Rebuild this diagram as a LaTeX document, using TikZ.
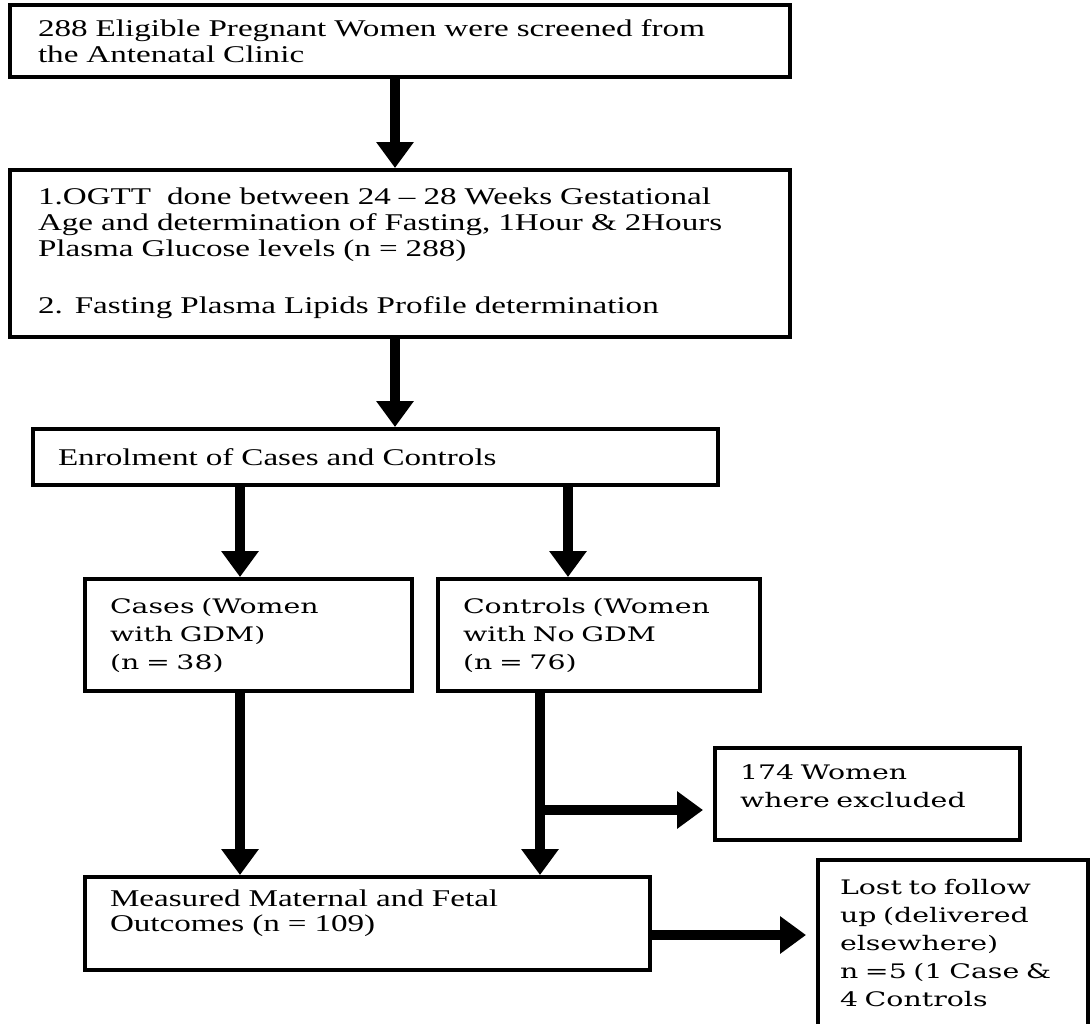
\documentclass[tikz,border=0pt]{standalone}
\usepackage{fontspec}
\usetikzlibrary{arrows.meta}
\newfontfamily\tnr[FakeStretch=1.38]{Liberation Serif}
\newfontfamily\cmb[FakeStretch=1.42]{DejaVu Serif}
\begin{document}
\begin{tikzpicture}
    [
    x=0.5pt, y=-0.5pt,
    box/.style={draw,line width=2pt,rectangle,align=left,inner ysep=0pt},
    tbox/.style={box,font=\tnr\fontsize{12pt}{12.8pt}\selectfont},
    cbox/.style={box,font=\cmb\fontsize{10pt}{14pt}\selectfont,inner xsep=12.5pt},
    flow/.style={line width=5pt,-{Triangle[width=18pt,length=13pt]}}
    ]
    \useasboundingbox (0,0) rectangle (1090,1023);
    \node (screen) at (400,41) [tbox,inner xsep=14pt,text width=362pt,minimum height=36pt]
      {288 Eligible Pregnant Women were screened from\\the Antenatal Clinic};
    \node (ogtt) at (400,253.5) [tbox,inner xsep=14pt,text width=362pt,minimum height=83.5pt]
      {1.OGTT\ \ done between 24 – 28 Weeks Gestational\\Age and determination of Fasting, 1Hour \& 2Hours\\Plasma Glucose levels (n = 288)\\[16pt]2. Fasting Plasma Lipids Profile determination};
    \node (enrol) at (375.5,457) [tbox,inner xsep=12.5pt,text width=317.5pt,minimum height=28pt]
      {Enrolment of Cases and Controls};
    \node (cases) at (248.5,635) [cbox,text width=138.5pt,minimum height=56pt]
      {Cases (Women\\with GDM)\\(n = 38)};
    \node (controls) at (599,635) [cbox,text width=136pt,minimum height=56pt]
      {Controls (Women\\with No GDM\\(n = 76)};
    \node (excluded) at (867.5,794) [cbox,text width=127.5pt,minimum height=46pt]
      {174 Women\\where excluded\\[-6pt]\mbox{}};
    \node (outcomes) at (367.5,923.5) [tbox,inner xsep=12.5pt,text width=257.5pt,minimum height=46.5pt]
      {Measured Maternal and Fetal\\Outcomes (n = 109)\\\mbox{}};
    \node (lost) at (953,943) [cbox,inner xsep=11pt,text width=113pt,minimum height=83pt]
      {Lost to follow\\up (delivered\\elsewhere)\\n =5 (1 Case \&\\4 Controls};
    \coordinate (c1) at (395,0);
    \coordinate (c2) at (240,0);
    \coordinate (c3) at (568,0);
    \coordinate (c4) at (540,0);
    \coordinate (split) at (540,810);
    \coordinate (lostrow) at (0,935);
    \draw [flow] (screen.south -| c1) to (ogtt.north -| c1);
    \draw [flow] (ogtt.south -| c1) to (enrol.north -| c1);
    \draw [flow] (enrol.south -| c2) to (cases.north -| c2);
    \draw [flow] (enrol.south -| c3) to (controls.north -| c3);
    \draw [flow] (cases.south -| c2) to (outcomes.north -| c2);
    \draw [flow] (controls.south -| c4) to (outcomes.north -| c4);
    \draw [flow,shorten >=5pt] (split) to (excluded.west |- split);
    \draw [flow,shorten >=5pt] (outcomes.east |- lostrow) to (lost.west |- lostrow);
  \end{tikzpicture}
\end{document}
